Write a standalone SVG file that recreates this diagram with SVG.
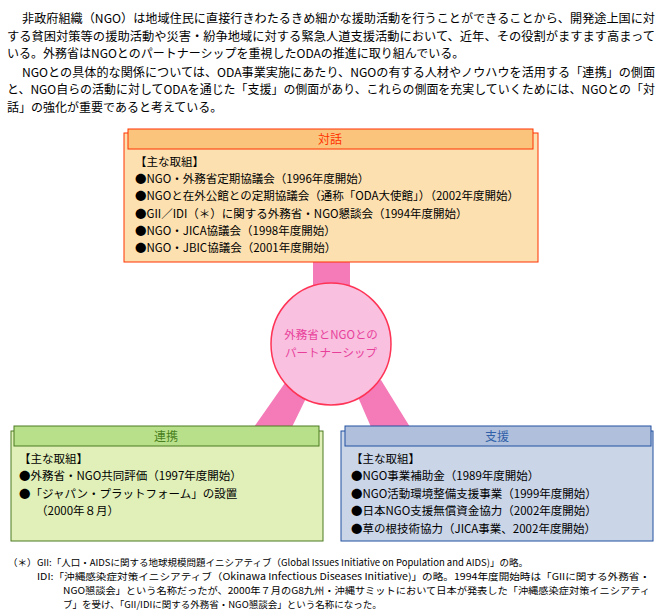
<svg xmlns="http://www.w3.org/2000/svg" width="661" height="616" viewBox="0 0 661 616">
<style>
text{font-family:"Noto Sans CJK JP","Noto Sans",sans-serif;fill:#000}
.p{font-size:12px}
.b{font-size:11.5px}
.f{font-size:9.5px}
.t{font-size:12px;text-anchor:middle}
.con{fill:#f47ab8}
</style>
<rect width="661" height="616" fill="#fff"/>
<g id="intro" class="p">
<text x="22" y="23" textLength="633" lengthAdjust="spacingAndGlyphs">非政府組織（NGO）は地域住民に直接行きわたるきめ細かな援助活動を行うことができることから、開発途上国に対</text>
<text x="7" y="41" textLength="648" lengthAdjust="spacingAndGlyphs">する貧困対策等の援助活動や災害・紛争地域に対する緊急人道支援活動において、近年、その役割がますます高まって</text>
<text x="7" y="58">いる。外務省はNGOとのパートナーシップを重視したODAの推進に取り組んでいる。</text>
<text x="22" y="77" textLength="633" lengthAdjust="spacingAndGlyphs">NGOとの具体的な関係については、ODA事業実施にあたり、NGOの有する人材やノウハウを活用する「連携」の側面</text>
<text x="7" y="94" textLength="648" lengthAdjust="spacingAndGlyphs">と、NGO自らの活動に対してODAを通じた「支援」の側面があり、これらの側面を充実していくためには、NGOとの「対</text>
<text x="7" y="112">話」の強化が重要であると考えている。</text>
</g>
<g id="connectors">
<rect class="con" x="313" y="262" width="37" height="26"/>
<polygon class="con" points="254,427 292,427 311,388 287,380"/>
<polygon class="con" points="371,427 410,427 381,380 354,388"/>
</g>
<g id="dialogue">
<rect x="124" y="133" width="414" height="129" fill="#fde0b0" stroke="#ff3300"/>
<rect x="128" y="129" width="405" height="20" fill="#fbc47c" stroke="#ff3300"/>
<text class="t" x="330" y="144" style="fill:#ff3300">対話</text>
<g class="b">
<text x="135" y="166">【主な取組】</text>
<text x="135" y="183">●NGO・外務省定期協議会（1996年度開始）</text>
<text x="135" y="200">●NGOと在外公館との定期協議会（通称「ODA大使館」）（2002年度開始）</text>
<text x="135" y="218">●GII／IDI（＊）に関する外務省・NGO懇談会（1994年度開始）</text>
<text x="135" y="235">●NGO・JICA協議会（1998年度開始）</text>
<text x="135" y="252">●NGO・JBIC協議会（2001年度開始）</text>
</g>
</g>
<g id="partnership">
<ellipse cx="331" cy="344" rx="60" ry="61" fill="#f9c0e0" stroke="#ff3355" stroke-width="1.5"/>
<text class="t" x="331" y="339" style="fill:#e8409a;font-size:11.5px">外務省とNGOとの</text>
<text class="t" x="331" y="357" style="fill:#e8409a;font-size:11.5px">パートナーシップ</text>
</g>
<g id="cooperation">
<rect x="11" y="431" width="312" height="110" fill="#e0f0b8" stroke="#4a7a20"/>
<rect x="14" y="426" width="305" height="20" fill="#b8e08a" stroke="#4a7a20"/>
<text class="t" x="166" y="441" style="fill:#4a8020">連携</text>
<g class="b">
<text x="19" y="463">【主な取組】</text>
<text x="19" y="480">●外務省・NGO共同評価（1997年度開始）</text>
<text x="19" y="498">●「ジャパン・プラットフォーム」の設置</text>
<text x="36" y="515">（2000年８月）</text>
</g>
</g>
<g id="support">
<rect x="341" y="431" width="312" height="110" fill="#cad5e8" stroke="#2050a0"/>
<rect x="345" y="426" width="306" height="20" fill="#b0c0dc" stroke="#2050a0"/>
<text class="t" x="497" y="441" style="fill:#3060a8">支援</text>
<g class="b">
<text x="351" y="463">【主な取組】</text>
<text x="351" y="480">●NGO事業補助金（1989年度開始）</text>
<text x="351" y="498">●NGO活動環境整備支援事業（1999年度開始）</text>
<text x="351" y="515">●日本NGO支援無償資金協力（2002年度開始）</text>
<text x="351" y="533">●草の根技術協力（JICA事業、2002年度開始）</text>
</g>
</g>
<g id="footnote" class="f">
<text x="8" y="566">（＊）</text>
<text x="37" y="566">GII:「人口・AIDSに関する地球規模問題イニシアティブ（Global Issues Initiative on Population and AIDS)」の略。</text>
<text x="37" y="580" textLength="613" lengthAdjust="spacingAndGlyphs">IDI:「沖縄感染症対策イニシアティブ（Okinawa Infectious Diseases Initiative)」の略。1994年度開始時は「GIIに関する外務省・</text>
<text x="63" y="594" textLength="587" lengthAdjust="spacingAndGlyphs">NGO懇談会」という名称だったが、2000年７月のG8九州・沖縄サミットにおいて日本が発表した「沖縄感染症対策イニシアティ</text>
<text x="63" y="608">ブ」を受け、「GII/IDIに関する外務省・NGO懇談会」という名称になった。</text>
</g>
</svg>
